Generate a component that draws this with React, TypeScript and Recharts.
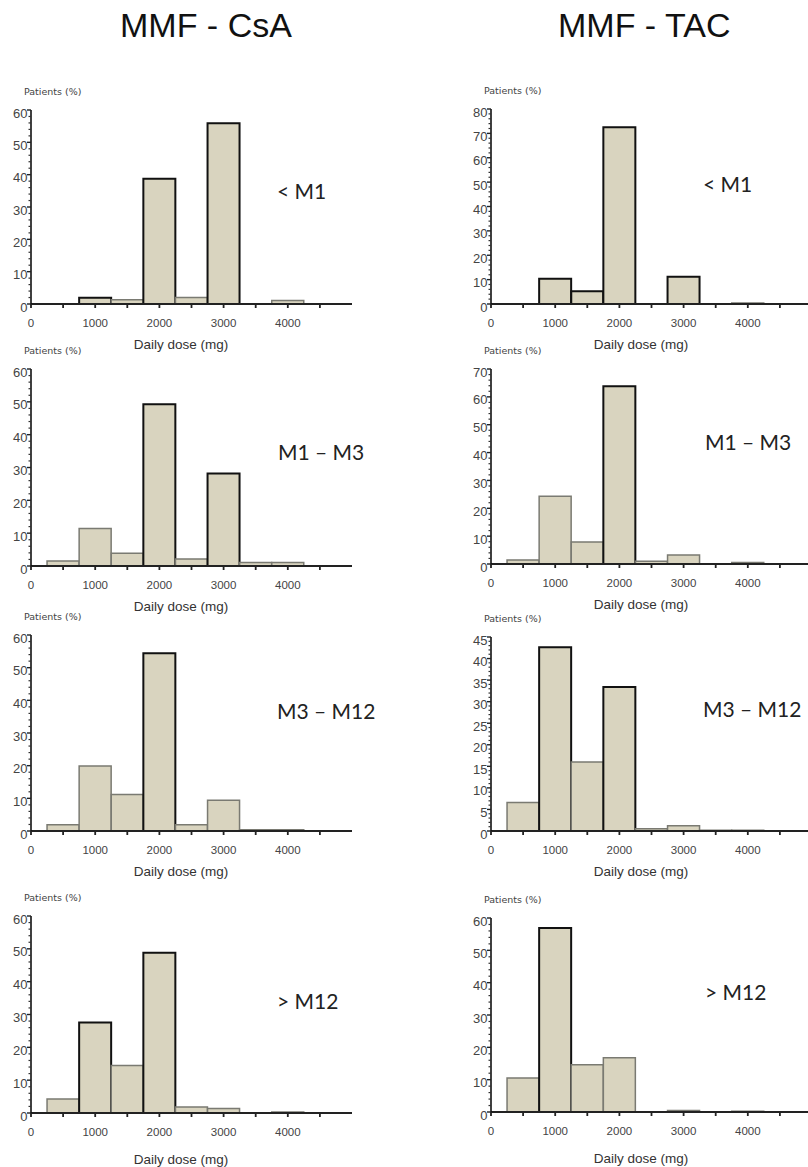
import React from 'react';
import { BarChart, Bar, XAxis, YAxis, Cell } from 'recharts';

// dose bins (mg/day), bars are centred on these
const doses = [500, 1000, 1500, 2000, 2500, 3000, 3500, 4000];
const xTicks = [0, 500, 1000, 1500, 2000, 2500, 3000, 3500, 4000, 4500];
const xLabelTicks = [0, 1000, 2000, 3000, 4000];

// patients (%) per bin, MMF - CsA
const csaBelowM1 = [null, 1.9, 1.3, 38.7, 2.0, 55.9, null, 1.1];
const csaM1toM3 = [1.5, 11.4, 3.9, 49.3, 2.1, 28.2, 1.1, 1.1];
const csaM3toM12 = [1.9, 19.9, 11.2, 54.4, 1.9, 9.4, 0.4, 0.4];
const csaAboveM12 = [4.3, 27.6, 14.5, 48.8, 1.8, 1.4, null, 0.3];

// patients (%) per bin, MMF - TAC
const tacBelowM1 = [null, 10.4, 5.2, 72.5, null, 11.2, null, 0.4];
const tacM1toM3 = [1.4, 24.3, 7.9, 63.8, 1.0, 3.2, null, 0.5];
const tacM3toM12 = [6.6, 42.6, 16.0, 33.4, 0.5, 1.2, 0.2, 0.2];
const tacAboveM12 = [10.5, 56.9, 14.6, 16.8, null, 0.5, null, 0.2];

// bins drawn with a dark outline
const csaBelowM1Bold = [1000, 2000, 3000];
const csaM1toM3Bold = [2000, 3000];
const csaM3toM12Bold = [2000];
const csaAboveM12Bold = [1000, 2000];
const tacBelowM1Bold = [1000, 1500, 2000, 3000];
const tacM1toM3Bold = [2000];
const tacM3toM12Bold = [1000, 2000];
const tacAboveM12Bold = [1000];

const ticks60 = [0, 10, 20, 30, 40, 50, 60];
const ticks70 = [0, 10, 20, 30, 40, 50, 60, 70];
const ticks80 = [0, 10, 20, 30, 40, 50, 60, 70, 80];
const ticks45 = [0, 5, 10, 15, 20, 25, 30, 35, 40, 45];

const FILL = '#d9d4bf';
const AXIS_W = 31;
const PLOT_W = 321;
const TOP = 25;

interface PanelDef {
  values: (number | null)[];
  bold: number[];
  yTicks: number[];
  minor: number;
  axisX: number;
  plotTop: number;
  plotBottom: number;
  name: string;
  nameX: number;
  nameY: number;
  xLabelGap: number;
}

const panels: PanelDef[] = [
  { values: csaBelowM1, bold: csaBelowM1Bold, yTicks: ticks60, minor: 2, axisX: 31, plotTop: 110, plotBottom: 304, name: '< M1', nameX: 277, nameY: 192, xLabelGap: 40 },
  { values: csaM1toM3, bold: csaM1toM3Bold, yTicks: ticks60, minor: 2, axisX: 31, plotTop: 369, plotBottom: 566, name: 'M1 – M3', nameX: 278, nameY: 453, xLabelGap: 40 },
  { values: csaM3toM12, bold: csaM3toM12Bold, yTicks: ticks60, minor: 2, axisX: 31, plotTop: 635, plotBottom: 831, name: 'M3 – M12', nameX: 277, nameY: 712, xLabelGap: 40 },
  { values: csaAboveM12, bold: csaAboveM12Bold, yTicks: ticks60, minor: 2, axisX: 31, plotTop: 916, plotBottom: 1113, name: '> M12', nameX: 277, nameY: 1002, xLabelGap: 46 },
  { values: tacBelowM1, bold: tacBelowM1Bold, yTicks: ticks80, minor: 2, axisX: 491, plotTop: 109, plotBottom: 304, name: '< M1', nameX: 703, nameY: 185, xLabelGap: 40 },
  { values: tacM1toM3, bold: tacM1toM3Bold, yTicks: ticks70, minor: 2, axisX: 491, plotTop: 369, plotBottom: 564, name: 'M1 – M3', nameX: 705, nameY: 443, xLabelGap: 40 },
  { values: tacM3toM12, bold: tacM3toM12Bold, yTicks: ticks45, minor: 1, axisX: 491, plotTop: 637, plotBottom: 831, name: 'M3 – M12', nameX: 703, nameY: 710, xLabelGap: 40 },
  { values: tacAboveM12, bold: tacAboveM12Bold, yTicks: ticks60, minor: 2, axisX: 491, plotTop: 918, plotBottom: 1112, name: '> M12', nameX: 705, nameY: 993, xLabelGap: 46 },
];

function XTick(props: any) {
  const { x, y, payload } = props;
  const v = payload.value;
  return (
    <g>
      <line x1={x} y1={y} x2={x} y2={y + 4} stroke="#222" strokeWidth={1.8} />
      {xLabelTicks.includes(v) && (
        <text x={x} y={y + 19} textAnchor="middle" dominantBaseline="central"
          fontFamily="'Liberation Sans', Arial, sans-serif" fontSize={11.5} fill="#444">
          {v}
        </text>
      )}
    </g>
  );
}

function makeYTick(majors: number[]) {
  return (props: any) => {
    const { x, y, payload } = props;
    const major = majors.includes(payload.value);
    if (!major) {
      return <line x1={x - 2.5} y1={y} x2={x} y2={y} stroke="#333" strokeWidth={1.2} />;
    }
    return (
      <g>
        <line x1={x - 4} y1={y} x2={x} y2={y} stroke="#222" strokeWidth={1.4} />
        <text x={x - 3.5} y={y + 3} textAnchor="end" dominantBaseline="central"
          fontFamily="'Liberation Sans', Arial, sans-serif" fontSize={13} fill="#444">
          {payload.value}
        </text>
      </g>
    );
  };
}

function DosePanel({ p }: { p: PanelDef }) {
  const data = doses.map((dose, i) => ({ dose, pct: p.values[i] }));
  const yMax = p.yTicks[p.yTicks.length - 1];
  const yAll: number[] = [];
  for (let v = 0; v <= yMax + 1e-9; v += p.minor) yAll.push(v);
  const plotH = p.plotBottom - p.plotTop;
  const height = TOP + plotH + 60;

  return (
    <div style={{ position: 'absolute', left: p.axisX - AXIS_W, top: p.plotTop - TOP }}>
      <BarChart width={AXIS_W + PLOT_W} height={height} data={data}
        margin={{ top: TOP, right: 0, bottom: 20, left: 0 }} barCategoryGap={0} barGap={0}>
        <XAxis dataKey="dose" type="number" domain={[0, 5000]} ticks={xTicks} interval={0}
          tickSize={0} tickMargin={0} tickLine={false} height={40} allowDataOverflow
          axisLine={{ stroke: '#222', strokeWidth: 2 }} tick={<XTick />}
          label={(lp: any) => {
            const vb = lp.viewBox || {};
            return (
              <text x={vb.x + 150} y={vb.y + p.xLabelGap} textAnchor="middle" dominantBaseline="central"
                fontFamily="'Liberation Sans', Arial, sans-serif" fontSize={13.5} fill="#333">
                Daily dose (mg)
              </text>
            );
          }}
        />
        <YAxis type="number" domain={[0, yMax]} ticks={yAll} interval={0} width={AXIS_W}
          tickSize={0} tickMargin={0} tickLine={false} allowDataOverflow
          axisLine={{ stroke: '#111', strokeWidth: 1.6 }} tick={makeYTick(p.yTicks)}
          label={(lp: any) => {
            const vb = lp.viewBox || {};
            return (
              <text x={vb.x + vb.width - 7} y={vb.y - 19} dominantBaseline="central"
                fontFamily="'DejaVu Sans', Verdana, sans-serif" fontSize={9.5} fill="#444">
                Patients (%)
              </text>
            );
          }}
        />
        <Bar dataKey="pct" fill={FILL} isAnimationActive={false}>
          {data.map((d) => {
            const bold = p.bold.includes(d.dose);
            return (
              <Cell key={d.dose} fill={FILL} stroke={bold ? '#111' : '#7a7a72'} strokeWidth={bold ? 2 : 1.5} />
            );
          })}
        </Bar>
      </BarChart>
      <div style={{
        position: 'absolute', left: p.nameX - p.axisX + AXIS_W, top: p.nameY - p.plotTop + TOP - 13,
        fontFamily: "Lato, 'Open Sans', sans-serif", fontSize: 21, lineHeight: '24px',
        color: '#222', whiteSpace: 'nowrap',
      }}>
        {p.name}
      </div>
    </div>
  );
}

const titleStyle: React.CSSProperties = {
  position: 'absolute', top: 8, fontFamily: "'Liberation Sans', Arial, sans-serif",
  fontSize: 34, lineHeight: '34px', color: '#111', whiteSpace: 'nowrap',
};

export default function App() {
  return (
    <div style={{ position: 'absolute', left: 0, top: 0, width: 808, height: 1167, overflow: 'hidden', background: '#fff' }}>
      <div style={{ ...titleStyle, left: 120 }}>MMF - CsA</div>
      <div style={{ ...titleStyle, left: 558 }}>MMF - TAC</div>
      {panels.map((p, i) => (
        <DosePanel key={i} p={p} />
      ))}
    </div>
  );
}
